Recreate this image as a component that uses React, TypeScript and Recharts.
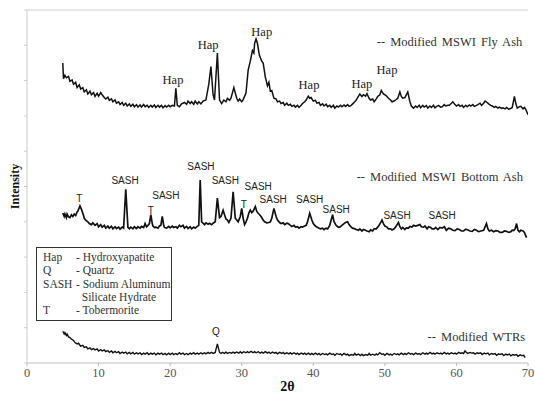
import React from 'react';
import { LineChart, Line, XAxis, YAxis, ReferenceDot, ReferenceLine } from 'recharts';

const xTicks = [0, 10, 20, 30, 40, 50, 60, 70];
const yTicks = [0, 1, 2, 3, 4, 5, 6, 7, 8, 9, 10];

const flyAsh: [number, number][] = [
  [5.0, 8.5], [5.1, 8.05], [5.3, 8.15], [5.5, 8.08], [5.8, 8.12], [6.0, 7.98], [6.3, 8.02], [6.5, 7.9], [6.8, 7.95], [7.0, 7.8], [7.3, 7.88], [7.5, 7.76], [7.8, 7.8], [8.0, 7.68], [8.3, 7.74], [8.5, 7.62], [8.8, 7.7], [9.0, 7.6],
  [9.3, 7.66], [9.5, 7.55], [9.8, 7.64], [10.0, 7.56], [10.3, 7.66], [10.5, 7.6], [10.8, 7.52], [11.0, 7.48], [11.3, 7.53], [11.5, 7.44], [11.8, 7.48], [12.0, 7.4], [12.3, 7.45], [12.5, 7.36], [12.8, 7.4], [13.0, 7.32], [13.3, 7.38], [13.5, 7.3], [13.8, 7.36], [14.0, 7.28],
  [14.3, 7.34], [14.5, 7.27], [14.8, 7.33], [15.0, 7.26], [15.3, 7.32], [15.5, 7.25], [15.8, 7.31], [16.0, 7.25], [16.3, 7.32], [16.5, 7.26], [16.8, 7.3], [17.0, 7.24], [17.3, 7.3], [17.5, 7.25], [17.8, 7.31], [18.0, 7.24], [18.3, 7.3], [18.5, 7.25], [18.8, 7.3], [19.0, 7.23],
  [19.3, 7.29], [19.5, 7.25], [19.8, 7.3], [20.0, 7.26], [20.3, 7.3], [20.6, 7.28], [20.8, 7.78], [21.0, 7.3], [21.3, 7.26], [21.6, 7.34], [22.0, 7.38], [22.3, 7.33], [22.5, 7.42], [22.8, 7.35], [23.0, 7.4], [23.3, 7.33], [23.5, 7.42],
  [23.8, 7.34], [24.0, 7.4], [24.3, 7.34], [24.6, 7.42], [25.0, 7.45], [25.4, 7.9], [25.7, 8.4], [26.0, 7.6], [26.2, 7.45], [26.6, 8.78], [26.9, 7.45], [27.2, 7.35],
  [27.5, 7.45], [27.8, 7.4], [28.0, 7.5], [28.3, 7.44], [28.5, 7.5], [28.9, 7.8], [29.3, 7.5], [29.5, 7.42], [29.7, 7.48], [30.0, 7.4], [30.2, 7.46], [30.6, 7.65], [30.9, 8.3], [31.2, 8.55],
  [31.5, 8.85], [31.7, 8.78], [31.8, 9.05], [32.0, 9.18], [32.2, 9.05], [32.4, 8.8], [32.5, 8.7], [32.7, 8.6], [32.8, 8.55], [33.0, 8.5], [33.3, 8.1], [33.6, 7.85], [33.8, 7.95], [34.0, 7.7], [34.2, 7.72],
  [34.5, 7.5], [34.8, 7.48], [35.0, 7.4], [35.3, 7.42], [35.5, 7.35], [35.8, 7.38], [36.0, 7.3], [36.3, 7.36], [36.5, 7.3], [36.8, 7.33], [37.0, 7.27], [37.3, 7.3], [37.5, 7.25], [37.8, 7.3], [38.0, 7.24], [38.3, 7.3], [38.5, 7.35], [38.8, 7.4], [39.0, 7.45],
  [39.3, 7.56], [39.5, 7.5], [39.7, 7.52], [40.0, 7.42], [40.3, 7.44], [40.5, 7.36], [40.8, 7.38], [41.0, 7.3], [41.3, 7.34], [41.5, 7.28], [41.8, 7.33], [42.0, 7.26], [42.3, 7.3], [42.5, 7.24], [42.8, 7.3], [43.0, 7.22], [43.3, 7.28],
  [43.5, 7.25], [43.8, 7.3], [44.0, 7.26], [44.3, 7.31], [44.5, 7.27], [44.8, 7.32], [45.0, 7.27], [45.3, 7.3], [45.5, 7.34], [45.8, 7.4], [46.0, 7.45], [46.3, 7.55], [46.5, 7.62], [46.8, 7.55], [47.0, 7.6], [47.3, 7.56], [47.5, 7.63], [47.8, 7.5], [48.0, 7.45], [48.3, 7.48], [48.5, 7.4],
  [48.8, 7.48], [49.0, 7.55], [49.3, 7.6], [49.5, 7.72], [49.8, 7.62], [50.0, 7.6], [50.3, 7.55], [50.5, 7.5], [50.8, 7.45], [51.0, 7.4], [51.3, 7.42], [51.5, 7.45], [51.8, 7.5], [52.1, 7.68], [52.3, 7.55], [52.5, 7.5], [52.8, 7.52], [53.2, 7.68], [53.5, 7.4], [53.7, 7.28],
  [54.0, 7.22], [54.3, 7.28], [54.5, 7.24], [54.8, 7.3], [55.0, 7.23], [55.3, 7.3], [55.5, 7.25], [55.8, 7.29], [56.0, 7.22], [56.3, 7.28], [56.5, 7.24], [56.8, 7.3], [57.0, 7.23], [57.3, 7.28], [57.5, 7.3], [57.8, 7.25], [58.0, 7.26], [58.3, 7.32], [58.5, 7.28],
  [58.8, 7.3], [59.0, 7.3], [59.3, 7.36], [59.5, 7.4], [59.8, 7.32], [60.0, 7.28], [60.3, 7.32], [60.5, 7.27], [60.8, 7.3], [61.0, 7.24], [61.3, 7.3], [61.5, 7.26], [61.8, 7.31], [62.0, 7.28], [62.3, 7.32], [62.5, 7.27], [62.8, 7.3], [63.0, 7.32], [63.3, 7.36], [63.5, 7.3],
  [63.8, 7.36], [64.0, 7.42], [64.3, 7.38], [64.5, 7.34], [64.8, 7.3], [65.0, 7.28], [65.3, 7.24], [65.5, 7.27], [65.8, 7.22], [66.0, 7.25], [66.3, 7.21], [66.5, 7.23], [66.8, 7.2], [67.0, 7.24], [67.3, 7.19], [67.5, 7.2], [67.8, 7.24], [68.1, 7.55], [68.3, 7.35], [68.5, 7.22],
  [68.8, 7.26], [69.0, 7.27], [69.3, 7.2], [69.5, 7.24], [69.7, 7.18], [70.0, 7.03],
];

const bottomAsh: [number, number][] = [
  [5.0, 4.25], [5.2, 4.15], [5.3, 4.22], [5.5, 4.12], [5.6, 4.22], [5.8, 4.14], [6.0, 4.12], [6.2, 4.2], [6.4, 4.15], [6.6, 4.22], [6.8, 4.18], [7.0, 4.28], [7.1, 4.3], [7.4, 4.45], [7.6, 4.36], [7.7, 4.3], [7.9, 4.18], [8.0, 4.1], [8.2, 4.05],
  [8.5, 4.0], [8.7, 3.95], [9.0, 3.92], [9.2, 3.97], [9.5, 3.9], [9.8, 3.95], [10.0, 3.86], [10.3, 3.92], [10.5, 3.85], [10.8, 3.9], [11.0, 3.82], [11.3, 3.88], [11.5, 3.82], [11.8, 3.87], [12.0, 3.8], [12.3, 3.86], [12.5, 3.81], [12.8, 3.85], [13.0, 3.79],
  [13.3, 3.85], [13.5, 3.82], [13.8, 4.92], [14.1, 3.84], [14.3, 3.8], [14.5, 3.85], [14.8, 3.8], [15.0, 3.86], [15.3, 3.81], [15.5, 3.86], [15.8, 3.82], [16.0, 3.87], [16.3, 3.84], [16.5, 3.95], [16.7, 3.86], [16.9, 3.9], [17.1, 3.95], [17.3, 4.2],
  [17.5, 3.95], [17.6, 3.88], [17.8, 3.84], [18.0, 3.85], [18.3, 3.82], [18.5, 3.88], [18.7, 3.9], [18.9, 4.15], [19.1, 3.9], [19.2, 3.84], [19.5, 3.82], [19.8, 3.87], [20.0, 3.83], [20.3, 3.88], [20.5, 3.84], [20.8, 3.86], [21.0, 3.82], [21.3, 3.9], [21.5, 3.86],
  [21.8, 3.9], [22.0, 3.82], [22.3, 3.87], [22.5, 3.81], [22.8, 3.86], [23.0, 3.8], [23.3, 3.85], [23.5, 3.82], [23.8, 3.87], [24.0, 3.9], [24.2, 5.18], [24.4, 4.0], [24.5, 3.98], [24.8, 3.92], [25.0, 3.97], [25.3, 3.93], [25.5, 3.96], [25.8, 3.92], [26.0, 3.96],
  [26.3, 4.0], [26.6, 4.67], [26.9, 4.12], [27.1, 4.15], [27.4, 4.33], [27.6, 4.2], [27.8, 4.08], [28.0, 4.05], [28.2, 3.98], [28.5, 4.1], [28.8, 4.85], [29.1, 4.1], [29.3, 4.05], [29.5, 4.0], [29.8, 4.15],
  [30.0, 4.38], [30.2, 4.1], [30.4, 3.92], [30.6, 4.0], [30.8, 4.1], [31.0, 4.25], [31.2, 4.33], [31.4, 4.26], [31.6, 4.3], [31.9, 4.43], [32.1, 4.3], [32.3, 4.24], [32.5, 4.2], [32.7, 4.15], [33.0, 4.05], [33.2, 4.0], [33.5, 3.97],
  [33.8, 3.98], [34.0, 4.0], [34.2, 4.1], [34.5, 4.38], [34.8, 4.15], [35.0, 4.05], [35.3, 3.98], [35.5, 3.95], [35.8, 3.97], [36.0, 3.92], [36.3, 3.96], [36.5, 3.95], [36.8, 3.9], [37.0, 3.87], [37.3, 3.9], [37.5, 3.85], [37.8, 3.86], [38.0, 3.82], [38.3, 3.86], [38.5, 3.85],
  [38.8, 3.88], [39.0, 3.9], [39.2, 4.0], [39.5, 4.24], [39.8, 4.05], [40.0, 3.95], [40.3, 3.88], [40.5, 3.85], [40.8, 3.82], [41.0, 3.8], [41.3, 3.82], [41.5, 3.78], [41.8, 3.82], [42.0, 3.8], [42.3, 3.9], [42.7, 4.2], [42.9, 4.0], [43.2, 3.9], [43.5, 3.85], [43.7, 3.85],
  [44.0, 3.9], [44.3, 3.95], [44.5, 3.98], [44.8, 4.0], [45.0, 3.92], [45.3, 3.85], [45.5, 3.82], [45.8, 3.8], [46.0, 3.78], [46.3, 3.76], [46.5, 3.8], [46.8, 3.74], [47.0, 3.78], [47.3, 3.76], [47.5, 3.74], [47.8, 3.72], [48.0, 3.77], [48.3, 3.74], [48.5, 3.8], [48.8, 3.8],
  [49.2, 3.9], [49.6, 4.05], [49.8, 3.95], [50.0, 3.88], [50.3, 3.85], [50.5, 3.8], [50.8, 3.8], [51.0, 3.77], [51.3, 3.8], [51.5, 3.85], [51.9, 3.98], [52.1, 3.86], [52.3, 3.8], [52.5, 3.84], [52.8, 3.78], [53.0, 3.83], [53.3, 3.82], [53.5, 3.87], [53.8, 3.85],
  [54.0, 3.9], [54.3, 3.88], [54.6, 3.9], [54.9, 3.92], [55.1, 3.86], [55.4, 3.85], [55.6, 3.88], [55.9, 3.8], [56.1, 3.86], [56.4, 3.84], [56.6, 3.8], [56.9, 3.8], [57.1, 3.84], [57.4, 3.78], [57.7, 3.84], [58.0, 3.82], [58.3, 3.86], [58.6, 3.76], [58.9, 3.82], [59.2, 3.8],
  [59.5, 3.76], [59.8, 3.75], [60.1, 3.8], [60.4, 3.78], [60.7, 3.74], [61.0, 3.74], [61.3, 3.79], [61.6, 3.77], [61.9, 3.74], [62.2, 3.73], [62.5, 3.78], [62.8, 3.76], [63.1, 3.72], [63.4, 3.74], [63.8, 3.76], [64.2, 3.95], [64.4, 3.8], [64.6, 3.74], [64.9, 3.76], [65.2, 3.72],
  [65.5, 3.75], [65.8, 3.74], [66.1, 3.7], [66.4, 3.7], [66.7, 3.74], [67.0, 3.73], [67.3, 3.7], [67.6, 3.72], [67.8, 3.76], [68.0, 3.75], [68.2, 3.8], [68.4, 3.95], [68.6, 3.76], [68.8, 3.72], [69.0, 3.76], [69.3, 3.74], [69.5, 3.7], [69.8, 3.55],
];

const wtrs: [number, number][] = [
  [5.0, 0.9], [5.2, 0.82], [5.3, 0.86], [5.5, 0.78], [5.6, 0.82], [5.8, 0.74], [6.0, 0.72], [6.2, 0.68], [6.5, 0.64], [6.7, 0.58], [7.0, 0.54], [7.2, 0.56], [7.5, 0.48], [7.8, 0.5], [8.0, 0.44], [8.3, 0.46], [8.5, 0.4], [8.8, 0.43], [9.0, 0.38],
  [9.3, 0.41], [9.5, 0.37], [9.8, 0.4], [10.0, 0.34], [10.3, 0.38], [10.5, 0.34], [10.8, 0.37], [11.0, 0.32], [11.3, 0.35], [11.5, 0.3], [11.8, 0.34], [12.0, 0.29], [12.3, 0.33], [12.5, 0.29], [12.8, 0.32], [13.0, 0.27], [13.3, 0.31], [13.5, 0.28], [13.8, 0.31], [14.0, 0.26],
  [14.3, 0.3], [14.5, 0.26], [14.8, 0.3], [15.0, 0.25], [15.3, 0.29], [15.5, 0.26], [15.8, 0.29], [16.0, 0.24], [16.3, 0.28], [16.5, 0.25], [16.8, 0.29], [17.0, 0.24], [17.3, 0.28], [17.5, 0.25], [17.8, 0.28], [18.0, 0.23], [18.3, 0.28], [18.5, 0.25], [18.8, 0.28], [19.0, 0.24],
  [19.3, 0.27], [19.5, 0.23], [19.8, 0.28], [20.0, 0.24], [20.3, 0.28], [20.5, 0.24], [20.8, 0.27], [21.0, 0.24], [21.3, 0.29], [21.5, 0.25], [21.8, 0.28], [22.0, 0.24], [22.3, 0.27], [22.5, 0.24], [22.8, 0.28], [23.0, 0.25], [23.3, 0.29], [23.5, 0.25], [23.8, 0.28], [24.0, 0.25],
  [24.3, 0.29], [24.5, 0.26], [24.8, 0.29], [25.0, 0.26], [25.3, 0.3], [25.5, 0.27], [25.8, 0.3], [26.0, 0.27], [26.3, 0.3], [26.6, 0.54], [26.9, 0.3], [27.1, 0.27], [27.3, 0.3], [27.6, 0.27], [27.8, 0.31], [28.0, 0.27], [28.3, 0.3], [28.6, 0.28],
  [28.8, 0.31], [29.0, 0.28], [29.3, 0.31], [29.6, 0.28], [29.8, 0.32], [30.0, 0.28], [30.3, 0.32], [30.6, 0.29], [30.8, 0.32], [31.0, 0.29], [31.3, 0.33], [31.6, 0.29], [31.8, 0.32], [32.0, 0.29], [32.3, 0.32], [32.6, 0.28], [32.8, 0.31], [33.0, 0.28], [33.3, 0.32],
  [33.6, 0.28], [33.8, 0.31], [34.0, 0.27], [34.3, 0.31], [34.6, 0.28], [34.8, 0.3], [35.0, 0.26], [35.3, 0.3], [35.6, 0.27], [35.8, 0.3], [36.0, 0.26], [36.3, 0.29], [36.6, 0.26], [36.8, 0.29], [37.0, 0.25], [37.3, 0.29], [37.6, 0.25], [37.8, 0.28], [38.0, 0.24], [38.3, 0.28],
  [38.6, 0.25], [38.8, 0.28], [39.0, 0.24], [39.3, 0.28], [39.6, 0.24], [39.8, 0.27], [40.0, 0.24], [40.3, 0.28], [40.6, 0.24], [40.8, 0.27], [41.0, 0.23], [41.3, 0.27], [41.6, 0.24], [41.8, 0.26], [42.0, 0.23], [42.3, 0.28], [42.6, 0.24], [42.8, 0.26], [43.0, 0.22], [43.3, 0.27],
  [43.6, 0.24], [43.8, 0.26], [44.0, 0.22], [44.3, 0.27], [44.6, 0.23], [44.8, 0.25], [45.0, 0.21], [45.3, 0.24], [45.6, 0.22], [45.8, 0.27], [46.0, 0.22], [46.3, 0.25], [46.6, 0.21], [46.8, 0.25], [47.0, 0.21], [47.3, 0.24], [47.6, 0.22], [47.8, 0.27], [48.0, 0.22], [48.3, 0.25],
  [48.6, 0.22], [48.8, 0.26], [49.0, 0.23], [49.3, 0.29], [49.6, 0.24], [49.8, 0.26], [50.0, 0.22], [50.3, 0.27], [50.6, 0.23], [50.8, 0.25], [51.0, 0.22], [51.3, 0.27], [51.6, 0.24], [51.8, 0.26], [52.0, 0.23], [52.3, 0.28], [52.6, 0.24], [52.8, 0.27], [53.0, 0.24], [53.3, 0.29],
  [53.6, 0.25], [53.8, 0.27], [54.0, 0.24], [54.3, 0.28], [54.6, 0.25], [54.8, 0.27], [55.0, 0.24], [55.3, 0.29], [55.6, 0.25], [55.8, 0.28], [56.0, 0.25], [56.3, 0.3], [56.6, 0.26], [56.8, 0.28], [57.0, 0.25], [57.3, 0.29], [57.6, 0.26], [57.8, 0.28], [58.0, 0.25], [58.3, 0.3],
  [58.6, 0.26], [58.8, 0.28], [59.0, 0.25], [59.3, 0.29], [59.6, 0.26], [59.8, 0.28], [60.0, 0.25], [60.3, 0.3], [60.6, 0.27], [60.8, 0.29], [61.0, 0.27], [61.2, 0.34], [61.4, 0.3], [61.6, 0.27], [61.9, 0.3], [62.1, 0.28], [62.4, 0.29], [62.6, 0.25], [62.9, 0.29], [63.1, 0.27],
  [63.4, 0.29], [63.6, 0.24], [63.9, 0.28], [64.1, 0.26], [64.4, 0.28], [64.6, 0.23], [64.9, 0.27], [65.1, 0.25], [65.4, 0.27], [65.6, 0.22], [65.9, 0.26], [66.1, 0.24], [66.4, 0.26], [66.6, 0.21], [66.9, 0.25], [67.1, 0.23], [67.4, 0.25], [67.6, 0.2], [67.9, 0.24], [68.1, 0.22],
  [68.4, 0.24], [68.6, 0.19], [68.9, 0.23], [69.1, 0.21], [69.4, 0.22], [69.6, 0.15],
];

// peak annotations: [2θ, intensity, text]
const hapLabels: [number, number, string][] = [
  [20.4, 8.02, 'Hap'], [25.3, 9.0, 'Hap'], [32.8, 9.39, 'Hap'], [39.4, 7.88, 'Hap'], [46.8, 7.9, 'Hap'], [50.3, 8.3, 'Hap'],
];
const sashLabels: [number, number, string][] = [
  [7.3, 4.65, 'T'], [13.7, 5.16, 'SASH'], [17.3, 4.33, 'T'], [19.4, 4.74, 'SASH'], [24.3, 5.56, 'SASH'], [27.7, 5.18, 'SASH'],
  [30.3, 4.48, 'T'], [32.3, 4.99, 'SASH'], [34.4, 4.64, 'SASH'], [39.5, 4.64, 'SASH'], [43.2, 4.35, 'SASH'], [51.7, 4.19, 'SASH'],
  [58.0, 4.19, 'SASH'], [26.4, 0.89, 'Q'],
];
const seriesNames: [number, number, string][] = [
  [69.2, 9.1, '-- Modified MSWI Fly Ash'],
  [69.3, 5.28, '-- Modified MSWI Bottom Ash'],
  [69.6, 0.75, '-- Modified WTRs'],
];
const legendRows: [string, string][] = [
  ['Hap', '- Hydroxyapatite'],
  ['Q', '- Quartz'],
  ['SASH', '- Sodium Aluminum'],
  ['', '  Silicate Hydrate'],
  ['T', '- Tobermorite'],
];

const toRows = (pts: [number, number][]) => pts.map(([t, v]) => ({ t, v }));

const SERIF = 'Liberation Serif';
const SANS = 'Liberation Sans';

const textShape = (text: string, font: string, size: number, anchor: string, color: string, spacing = 0) => (p: any) => (
  <text x={p.cx} y={p.cy} textAnchor={anchor} dominantBaseline="central" fontFamily={font} fontSize={size} fill={color} style={{ fontFamily: font, wordSpacing: spacing }}>
    {text}
  </text>
);

export default function App() {
  return (
    <div style={{ position: 'absolute', left: 0, top: 0, width: 535, height: 394, background: '#fff' }}>
      <LineChart width={535} height={394} margin={{ top: 10, right: 7, bottom: 0, left: 0 }}>
        <XAxis
          dataKey="t"
          type="number"
          domain={[0, 70]}
          ticks={xTicks}
          allowDataOverflow
          stroke="#bbb"
          tickSize={3}
          height={31}
          tick={{ fontFamily: SERIF, fontSize: 12.5, fill: '#555', style: { fontFamily: SERIF } }}
          label={{ value: '2θ', position: 'center', dy: 8, dx: 10, fontFamily: SERIF, fontSize: 14, fontWeight: 'bold', fill: '#111', style: { fontFamily: SERIF } }}
        />
        <YAxis
          type="number"
          domain={[0, 10]}
          ticks={yTicks}
          width={27}
          stroke="#ccc"
          tickSize={3}
          tickFormatter={() => ''}
          label={{ value: 'Intensity', angle: -90, position: 'center', dx: 1, fontFamily: SERIF, fontSize: 12, fontWeight: 'bold', fill: '#111', style: { fontFamily: SERIF } }}
        />
        <ReferenceLine y={10} stroke="#ccc" strokeWidth={1} />
        <Line data={toRows(flyAsh)} dataKey="v" type="linear" stroke="#111" strokeWidth={1.5} dot={false} isAnimationActive={false} />
        <Line data={toRows(bottomAsh)} dataKey="v" type="linear" stroke="#111" strokeWidth={1.7} dot={false} isAnimationActive={false} />
        <Line data={toRows(wtrs)} dataKey="v" type="linear" stroke="#111" strokeWidth={1.4} dot={false} isAnimationActive={false} />
        {hapLabels.map(([t, v, s], i) => (
          <ReferenceDot key={'h' + i} x={t} y={v} r={0} ifOverflow="visible" shape={textShape(s, SERIF, 12.5, 'middle', '#222')} />
        ))}
        {sashLabels.map(([t, v, s], i) => (
          <ReferenceDot key={'s' + i} x={t} y={v} r={0} ifOverflow="visible" shape={textShape(s, SANS, 10, 'middle', '#222')} />
        ))}
        {seriesNames.map(([t, v, s], i) => (
          <ReferenceDot key={'n' + i} x={t} y={v} r={0} ifOverflow="visible" shape={textShape(s, SERIF, 12.5, 'end', '#333', 2)} />
        ))}
      </LineChart>
      <div
        style={{
          position: 'absolute',
          left: 36,
          top: 247,
          width: 136,
          height: 74,
          border: '1.5px solid #333',
          background: '#fff',
          fontFamily: SERIF,
          fontSize: 11.5,
          lineHeight: '13.3px',
          color: '#333',
          padding: '3px 0 0 6px',
          boxSizing: 'border-box',
          whiteSpace: 'pre',
        }}
      >
        {legendRows.map(([a, b], i) => (
          <div key={i}>
            <span style={{ display: 'inline-block', width: 33 }}>{a}</span>
            <span>{b}</span>
          </div>
        ))}
      </div>
    </div>
  );
}
